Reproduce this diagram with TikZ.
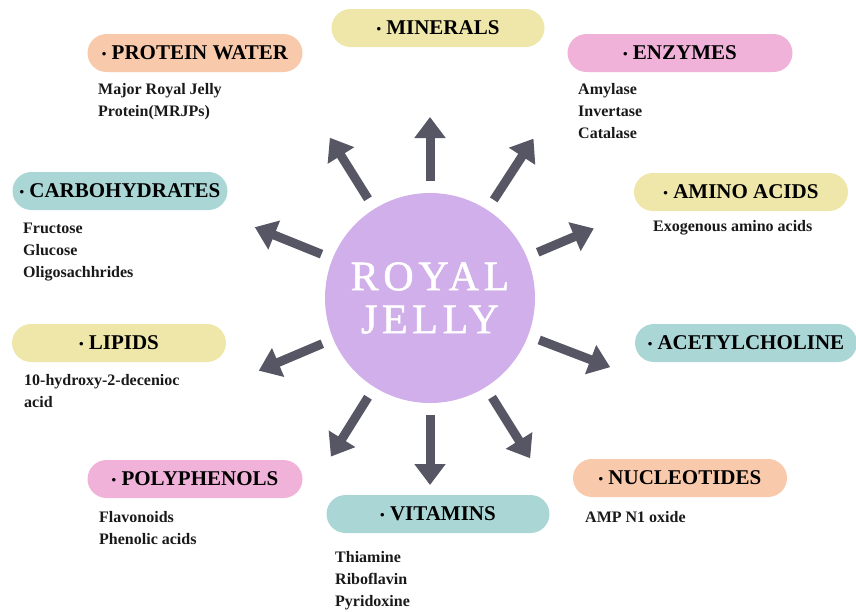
\documentclass[tikz,border=0pt]{standalone}
\usepackage{fontspec}
\setmainfont{Liberation Serif}
\usetikzlibrary{arrows.meta,calc}

\definecolor{rjpurple}{RGB}{208,175,234}
\definecolor{rjyellow}{RGB}{239,231,170}
\definecolor{rjpeach}{RGB}{248,201,170}
\definecolor{rjpink}{RGB}{240,178,217}
\definecolor{rjteal}{RGB}{170,214,214}
\definecolor{rjarrow}{RGB}{86,86,100}

\newcommand{\bul}{{\fontsize{13}{13}\selectfont\raisebox{1.5pt}{•}}\ }

\begin{document}
\begin{tikzpicture}[x=1pt,y=1pt,
  pill/.style={rounded corners=19pt, minimum height=38pt, inner sep=0pt, font=\fontsize{21}{24}\selectfont\bfseries},
  items/.style={anchor=north west, inner sep=0pt, align=left, font=\fontsize{16}{22}\selectfont\bfseries, text=black!90},
  spoke/.style={draw=rjarrow, line width=9pt, -{Triangle[width=30pt,length=21pt]}, shorten <=12pt}]
  \useasboundingbox (0,0) rectangle (856,-611);
  % centre
  \node[circle, fill=rjpurple, minimum size=210pt, outer sep=0pt, text=white, align=center,
    font=\fontsize{42}{43}\selectfont\addfontfeature{LetterSpace=11,FakeBold=1.2}] (jelly) at (430,-298) {ROYAL\\JELLY};
  % groups
  \node[pill, fill=rjyellow, minimum width=213pt] (minerals) at (438,-28) {\bul MINERALS};
  \node[pill, fill=rjpeach, minimum width=215pt] (protein) at (195,-53) {\bul PROTEIN WATER};
  \node[pill, fill=rjpink, minimum width=225pt] (enzymes) at (680,-53) {\bul ENZYMES};
  \node[pill, fill=rjyellow, minimum width=214pt] (amino) at (741,-192) {\bul AMINO ACIDS};
  \node[pill, fill=rjteal, minimum width=215pt] (carbs) at (120,-191) {\bul CARBOHYDRATES};
  \node[pill, fill=rjyellow, minimum width=214pt] (lipids) at (119,-343) {\bul LIPIDS};
  \node[pill, fill=rjteal, minimum width=222pt] (acetyl) at (746,-343) {\bul ACETYLCHOLINE};
  \node[pill, fill=rjpeach, minimum width=214pt] (nucleo) at (680,-478) {\bul NUCLEOTIDES};
  \node[pill, fill=rjpink, minimum width=215pt] (poly) at (195,-479) {\bul POLYPHENOLS};
  \node[pill, fill=rjteal, minimum width=223pt] (vitamins) at (438,-514) {\bul VITAMINS};
  % members
  \node[items] (protein-list) at (98,-83) {Major Royal Jelly\\Protein(MRJPs)};
  \node[items] (enzymes-list) at (578,-83) {Amylase\\Invertase\\Catalase};
  \node[items] (amino-list) at (653,-220) {Exogenous amino acids};
  \node[items] (carbs-list) at (23,-223) {Fructose\\Glucose\\Oligosachhrides};
  \node[items] (lipids-list) at (24,-374) {10-hydroxy-2-decenioc\\acid};
  \node[items] (nucleo-list) at (585,-511) {AMP N1 oxide};
  \node[items] (poly-list) at (99,-511) {Flavonoids\\Phenolic acids};
  \node[items] (vitamins-list) at (335,-551) {Thiamine\\Riboflavin\\Pyridoxine};
  % arrows
  \foreach \a/\r/\n in {90/181/minerals,122/189/protein,57/190/enzymes,23/178/amino,158/189/carbs,
      203/186/lipids,339/193/acetyl,238/187/poly,270/187/vitamins,302/189/nucleo} {
    \coordinate (tip-\n) at ($(jelly.center)+(\a:\r)$);
    \draw[spoke] (jelly.\a) -- (tip-\n);
  }
\end{tikzpicture}
\end{document}
